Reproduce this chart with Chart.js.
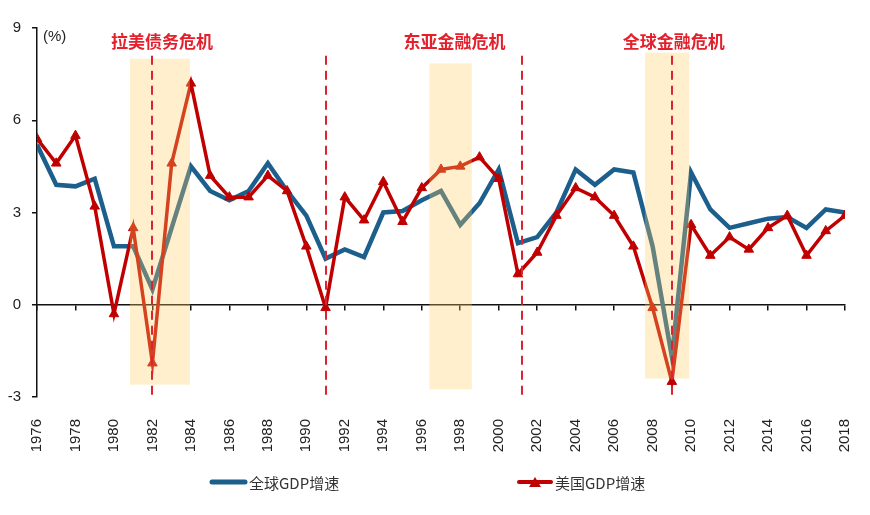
<!DOCTYPE html>
<html>
<head>
<meta charset="utf-8">
<script src="https://cdn.jsdelivr.net/npm/chart.js@4.4.1/dist/chart.umd.min.js"></script>
<style>
  html, body { margin: 0; padding: 0; background: #fff; }
  #wrap { width: 870px; height: 515px; }
</style>
</head>
<body>
<div id="wrap"><canvas id="gdp"></canvas></div>
<script>
const years = [];
for (let y = 1976; y <= 2018; y++) years.push(y);

const worldGdp = [5.2, 3.9, 3.85, 4.1, 1.9, 1.9, 0.5, 2.5, 4.5, 3.7,
                  3.4, 3.7, 4.6, 3.7, 2.9, 1.5, 1.8, 1.55, 3.0, 3.05,
                  3.4, 3.7, 2.6, 3.3, 4.4, 2.0, 2.2, 3.0, 4.4, 3.9,
                  4.4, 4.3, 1.9, -1.7, 4.3, 3.1, 2.5, 2.65, 2.8, 2.85,
                  2.5, 3.1, 3.0];
const usGdp = [5.4, 4.6, 5.5, 3.2, -0.3, 2.5, -1.9, 4.6, 7.2, 4.2,
               3.5, 3.5, 4.2, 3.7, 1.9, -0.1, 3.5, 2.75, 4.0, 2.7,
               3.8, 4.4, 4.5, 4.8, 4.1, 1.0, 1.7, 2.9, 3.8, 3.5,
               2.9, 1.9, -0.1, -2.5, 2.6, 1.6, 2.2, 1.8, 2.5, 2.9,
               1.6, 2.4, 2.9];

const seriesNames = ['全球GDP增速', '美国GDP增速'];
const yTicks = [-3, 0, 3, 6, 9];

// crisis shading (years) and dashed marker years
const crisisNames = ['拉美债务危机', '东亚金融危机', '全球金融危机'];
const crisisLabelAt = [1982.5, 1997.7, 2009.1];
const bandStart = [1980.83, 1996.4, 2007.6];
const bandEnd = [1983.95, 1998.6, 2009.9];
const bandTop = [8.0, 7.85, 8.2];
const bandBottom = [-2.6, -2.75, -2.4];
const crisisLines = [1982, 1991, 2001.2, 2009];

const BLUE = '#1c5f8c';
const RED = '#c00000';
const LABEL_RED = '#e3202c';

const overlay = {
  id: 'overlay',
  afterDatasetsDraw(chart) {
    const { ctx } = chart;
    const x = chart.scales.x, y = chart.scales.y;
    ctx.save();
    // bands laid over the lines
    ctx.fillStyle = 'rgba(255, 205, 100, 0.32)';
    bandStart.forEach((s, i) => {
      const x0 = x.getPixelForValue(s), x1 = x.getPixelForValue(bandEnd[i]);
      const y0 = y.getPixelForValue(bandTop[i]), y1 = y.getPixelForValue(bandBottom[i]);
      ctx.fillRect(x0, y0, x1 - x0, y1 - y0);
    });
    // dashed crisis markers
    ctx.strokeStyle = '#dc2430';
    ctx.lineWidth = 2;
    ctx.setLineDash([9, 6]);
    crisisLines.forEach(v => {
      const px = Math.round(x.getPixelForValue(v));
      ctx.beginPath();
      ctx.moveTo(px, y.getPixelForValue(8.1));
      ctx.lineTo(px, y.getPixelForValue(-3));
      ctx.stroke();
    });
    ctx.setLineDash([]);
    // crisis labels
    ctx.fillStyle = LABEL_RED;
    ctx.font = 'bold 17px "Noto Sans CJK SC"';
    ctx.textAlign = 'center';
    ctx.textBaseline = 'middle';
    crisisNames.forEach((n, i) => {
      ctx.fillText(n, x.getPixelForValue(crisisLabelAt[i]), y.getPixelForValue(8.55));
    });
    // unit
    ctx.fillStyle = '#222';
    ctx.font = '15px "Liberation Sans"';
    ctx.textAlign = 'left';
    ctx.fillText('(%)', chart.chartArea.left + 6, y.getPixelForValue(8.7));
    ctx.restore();
  },
  afterDraw(chart) {
    const { ctx } = chart;
    const ly = 482;
    ctx.save();
    ctx.lineCap = 'round';
    // blue legend
    ctx.strokeStyle = BLUE;
    ctx.lineWidth = 5;
    ctx.beginPath(); ctx.moveTo(212, ly); ctx.lineTo(245, ly); ctx.stroke();
    // red legend
    ctx.strokeStyle = RED;
    ctx.lineWidth = 4;
    ctx.beginPath(); ctx.moveTo(519, ly); ctx.lineTo(551, ly); ctx.stroke();
    ctx.fillStyle = RED;
    ctx.beginPath();
    ctx.moveTo(535, ly - 5); ctx.lineTo(541, ly + 5); ctx.lineTo(529, ly + 5);
    ctx.closePath(); ctx.fill();
    ctx.fillStyle = '#333';
    ctx.font = '15px "Noto Sans CJK SC"';
    ctx.textBaseline = 'middle';
    ctx.fillText(seriesNames[0], 249, ly + 1);
    ctx.fillText(seriesNames[1], 555, ly + 1);
    ctx.restore();
  }
};

new Chart(document.getElementById('gdp'), {
  type: 'line',
  data: {
    datasets: [
      {
        label: seriesNames[0],
        data: years.map((yr, i) => ({ x: yr, y: worldGdp[i] })),
        borderColor: BLUE,
        borderWidth: 4.5,
        pointRadius: 0,
        tension: 0,
        order: 2
      },
      {
        label: seriesNames[1],
        data: years.map((yr, i) => ({ x: yr, y: usGdp[i] })),
        borderColor: RED,
        backgroundColor: RED,
        borderWidth: 3.5,
        pointStyle: 'triangle',
        pointRadius: 5.5,
        pointBorderWidth: 1,
        tension: 0,
        order: 1
      }
    ]
  },
  options: {
    responsive: true,
    maintainAspectRatio: false,
    animation: false,
    layout: { padding: { top: 28, right: 25, left: 0, bottom: 0 } },
    plugins: { legend: { display: false }, tooltip: { enabled: false } },
    scales: {
      x: {
        type: 'linear',
        position: { y: 0 },
        min: 1976, max: 2018,
        ticks: { stepSize: 2, display: false },
        grid: { drawOnChartArea: false, drawTicks: true, tickLength: 5, color: '#111', lineWidth: 1.5 },
        border: { color: '#111', width: 1.5 }
      },
      x2: {
        type: 'linear',
        position: 'bottom',
        min: 1976, max: 2018,
        afterFit: s => { s.height = 118; s.paddingLeft = 0; s.paddingRight = 0; },
        grid: { display: false },
        border: { display: false },
        ticks: {
          stepSize: 2,
          autoSkip: false,
          minRotation: 90, maxRotation: 90,
          padding: 14,
          color: '#222',
          font: { family: 'Liberation Sans', size: 15 },
          callback: v => String(v)
        }
      },
      y: {
        min: -3, max: 9,
        afterFit: s => { s.width = 37; },
        afterBuildTicks: s => { s.ticks = yTicks.map(v => ({ value: v })); },
        grid: { drawOnChartArea: false, drawTicks: true, tickLength: 5, color: '#111', lineWidth: 1.5 },
        border: { color: '#111', width: 1.5 },
        ticks: {
          padding: 11,
          color: '#222',
          font: { family: 'Liberation Sans', size: 15 }
        }
      }
    }
  },
  plugins: [overlay]
});
</script>
</body>
</html>
